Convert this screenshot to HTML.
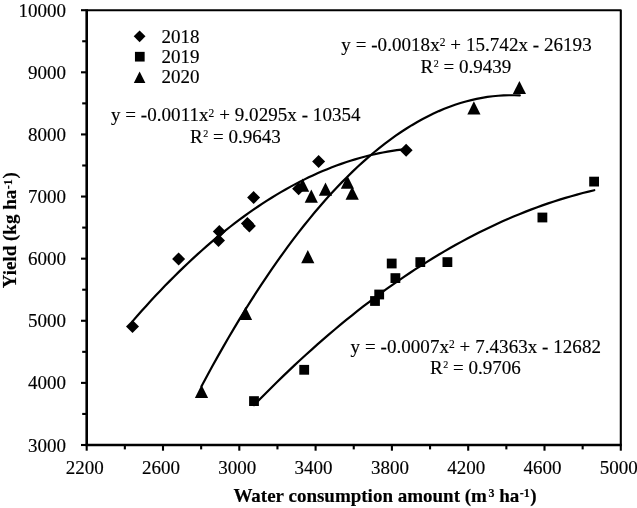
<!DOCTYPE html>
<html><head><meta charset="utf-8"><style>
html,body{margin:0;padding:0;background:#fff;}
svg{display:block;will-change:transform;}
text{font-family:"Liberation Serif",serif;fill:#000;stroke:#000;stroke-width:0.15px;}
</style></head><body>
<svg width="637" height="508" viewBox="0 0 637 508">
<g stroke="#000" fill="none" stroke-linecap="butt">
<path d="M86.7,10.2 H620.8 V445.0" stroke-width="2.1" stroke-linejoin="round"/>
<path d="M86.7,9.2 V445.0" stroke-width="2.6"/>
<path d="M85.4,445.0 H621.8" stroke-width="2.4"/>
<path d="M81.0,445.00 H86.7" stroke-width="2.1"/>
<path d="M82.2,413.94 H86.7" stroke-width="2.1"/>
<path d="M81.0,382.89 H86.7" stroke-width="2.1"/>
<path d="M82.2,351.83 H86.7" stroke-width="2.1"/>
<path d="M81.0,320.77 H86.7" stroke-width="2.1"/>
<path d="M82.2,289.71 H86.7" stroke-width="2.1"/>
<path d="M81.0,258.66 H86.7" stroke-width="2.1"/>
<path d="M82.2,227.60 H86.7" stroke-width="2.1"/>
<path d="M81.0,196.54 H86.7" stroke-width="2.1"/>
<path d="M82.2,165.49 H86.7" stroke-width="2.1"/>
<path d="M81.0,134.43 H86.7" stroke-width="2.1"/>
<path d="M82.2,103.37 H86.7" stroke-width="2.1"/>
<path d="M81.0,72.31 H86.7" stroke-width="2.1"/>
<path d="M82.2,41.26 H86.7" stroke-width="2.1"/>
<path d="M81.0,10.20 H86.7" stroke-width="2.1"/>
<path d="M86.70,445.0 V450.7" stroke-width="2.1"/>
<path d="M124.85,445.0 V449.4" stroke-width="2.1"/>
<path d="M163.00,445.0 V450.7" stroke-width="2.1"/>
<path d="M201.15,445.0 V449.4" stroke-width="2.1"/>
<path d="M239.30,445.0 V450.7" stroke-width="2.1"/>
<path d="M277.45,445.0 V449.4" stroke-width="2.1"/>
<path d="M315.60,445.0 V450.7" stroke-width="2.1"/>
<path d="M353.75,445.0 V449.4" stroke-width="2.1"/>
<path d="M391.90,445.0 V450.7" stroke-width="2.1"/>
<path d="M430.05,445.0 V449.4" stroke-width="2.1"/>
<path d="M468.20,445.0 V450.7" stroke-width="2.1"/>
<path d="M506.35,445.0 V449.4" stroke-width="2.1"/>
<path d="M544.50,445.0 V450.7" stroke-width="2.1"/>
<path d="M582.65,445.0 V449.4" stroke-width="2.1"/>
<path d="M620.80,445.0 V450.7" stroke-width="2.1"/>
</g>
<g stroke="#000" fill="none" stroke-width="2.2" stroke-linecap="round" stroke-linejoin="round">
<path d="M132.50,321.38 L137.14,316.05 L141.77,310.81 L146.41,305.66 L151.05,300.58 L155.69,295.59 L160.32,290.69 L164.96,285.86 L169.60,281.12 L174.24,276.46 L178.87,271.88 L183.51,267.39 L188.15,262.98 L192.78,258.65 L197.42,254.40 L202.06,250.24 L206.70,246.16 L211.33,242.16 L215.97,238.25 L220.61,234.42 L225.25,230.67 L229.88,227.00 L234.52,223.42 L239.16,219.92 L243.79,216.50 L248.43,213.17 L253.07,209.92 L257.71,206.75 L262.34,203.66 L266.98,200.66 L271.62,197.74 L276.26,194.90 L280.89,192.15 L285.53,189.48 L290.17,186.89 L294.81,184.38 L299.44,181.96 L304.08,179.62 L308.72,177.36 L313.35,175.19 L317.99,173.10 L322.63,171.09 L327.27,169.16 L331.90,167.32 L336.54,165.56 L341.18,163.88 L345.82,162.29 L350.45,160.77 L355.09,159.35 L359.73,158.00 L364.36,156.74 L369.00,155.55 L373.64,154.46 L378.28,153.44 L382.91,152.51 L387.55,151.66 L392.19,150.89 L396.83,150.21 L401.46,149.61 L406.10,149.09"/>
<path d="M254.00,405.18 L259.77,399.26 L265.54,393.43 L271.30,387.67 L277.07,381.99 L282.84,376.39 L288.61,370.87 L294.37,365.42 L300.14,360.06 L305.91,354.77 L311.68,349.56 L317.45,344.43 L323.21,339.37 L328.98,334.40 L334.75,329.50 L340.52,324.69 L346.28,319.95 L352.05,315.28 L357.82,310.70 L363.59,306.20 L369.36,301.77 L375.12,297.42 L380.89,293.15 L386.66,288.96 L392.43,284.85 L398.19,280.81 L403.96,276.86 L409.73,272.98 L415.50,269.18 L421.27,265.46 L427.03,261.81 L432.80,258.25 L438.57,254.76 L444.34,251.35 L450.11,248.02 L455.87,244.77 L461.64,241.60 L467.41,238.51 L473.18,235.49 L478.94,232.55 L484.71,229.69 L490.48,226.91 L496.25,224.21 L502.02,221.58 L507.78,219.03 L513.55,216.57 L519.32,214.18 L525.09,211.86 L530.85,209.63 L536.62,207.47 L542.39,205.40 L548.16,203.40 L553.93,201.48 L559.69,199.64 L565.46,197.87 L571.23,196.19 L577.00,194.58 L582.76,193.05 L588.53,191.60 L594.30,190.23"/>
<path d="M201.50,386.23 L206.89,376.18 L212.29,366.31 L217.68,356.62 L223.08,347.10 L228.47,337.76 L233.87,328.59 L239.26,319.61 L244.66,310.79 L250.05,302.16 L255.45,293.70 L260.84,285.42 L266.24,277.31 L271.63,269.38 L277.03,261.63 L282.42,254.05 L287.82,246.65 L293.21,239.43 L298.61,232.39 L304.00,225.51 L309.40,218.82 L314.79,212.30 L320.19,205.96 L325.58,199.80 L330.98,193.81 L336.37,188.00 L341.77,182.37 L347.16,176.91 L352.56,171.63 L357.95,166.52 L363.35,161.59 L368.74,156.84 L374.14,152.26 L379.53,147.86 L384.93,143.64 L390.32,139.60 L395.72,135.73 L401.11,132.03 L406.51,128.52 L411.90,125.18 L417.30,122.01 L422.69,119.02 L428.09,116.21 L433.48,113.58 L438.88,111.12 L444.27,108.84 L449.67,106.73 L455.06,104.81 L460.46,103.05 L465.85,101.48 L471.25,100.08 L476.64,98.86 L482.04,97.81 L487.43,96.94 L492.83,96.25 L498.22,95.73 L503.62,95.39 L509.01,95.23 L514.41,95.24 L519.80,95.43"/>
</g>
<g fill="#000" stroke="none">
<path d="M201.50,384.80 L208.10,398.00 L194.90,398.00Z"/>
<path d="M245.50,306.80 L252.10,320.00 L238.90,320.00Z"/>
<path d="M302.60,178.50 L309.20,191.70 L296.00,191.70Z"/>
<path d="M311.30,189.50 L317.90,202.70 L304.70,202.70Z"/>
<path d="M325.50,182.50 L332.10,195.70 L318.90,195.70Z"/>
<path d="M347.40,175.60 L354.00,188.80 L340.80,188.80Z"/>
<path d="M352.20,186.50 L358.80,199.70 L345.60,199.70Z"/>
<path d="M307.80,250.00 L314.40,263.20 L301.20,263.20Z"/>
<path d="M473.90,101.20 L480.50,114.40 L467.30,114.40Z"/>
<path d="M519.40,80.90 L526.00,94.10 L512.80,94.10Z"/>
<rect x="249.10" y="396.20" width="9.80" height="9.80"/>
<rect x="299.30" y="364.90" width="9.80" height="9.80"/>
<rect x="370.10" y="296.10" width="9.80" height="9.80"/>
<rect x="374.30" y="289.60" width="9.80" height="9.80"/>
<rect x="386.80" y="258.60" width="9.80" height="9.80"/>
<rect x="390.50" y="273.20" width="9.80" height="9.80"/>
<rect x="415.40" y="257.20" width="9.80" height="9.80"/>
<rect x="442.50" y="257.20" width="9.80" height="9.80"/>
<rect x="537.50" y="212.60" width="9.80" height="9.80"/>
<rect x="589.20" y="176.70" width="9.80" height="9.80"/>
<path d="M132.50,320.10 L139.00,326.60 L132.50,333.10 L126.00,326.60Z"/>
<path d="M178.60,252.40 L185.10,258.90 L178.60,265.40 L172.10,258.90Z"/>
<path d="M219.30,225.10 L225.80,231.60 L219.30,238.10 L212.80,231.60Z"/>
<path d="M218.50,233.90 L225.00,240.40 L218.50,246.90 L212.00,240.40Z"/>
<path d="M247.40,216.90 L253.90,223.40 L247.40,229.90 L240.90,223.40Z"/>
<path d="M249.40,219.40 L255.90,225.90 L249.40,232.40 L242.90,225.90Z"/>
<path d="M253.60,191.10 L260.10,197.60 L253.60,204.10 L247.10,197.60Z"/>
<path d="M298.60,182.20 L305.10,188.70 L298.60,195.20 L292.10,188.70Z"/>
<path d="M318.60,155.00 L325.10,161.50 L318.60,168.00 L312.10,161.50Z"/>
<path d="M406.10,143.80 L412.60,150.30 L406.10,156.80 L399.60,150.30Z"/>
<path d="M139.60,30.40 L145.50,36.30 L139.60,42.20 L133.70,36.30Z"/>
<rect x="134.95" y="51.85" width="9.70" height="9.70"/>
<path d="M139.60,71.50 L145.40,83.10 L133.80,83.10Z"/>
</g>
<g font-size="19">
<text x="66.1" y="451.50" text-anchor="end">3000</text>
<text x="66.1" y="389.39" text-anchor="end">4000</text>
<text x="66.1" y="327.27" text-anchor="end">5000</text>
<text x="66.1" y="265.16" text-anchor="end">6000</text>
<text x="66.1" y="203.04" text-anchor="end">7000</text>
<text x="66.1" y="140.93" text-anchor="end">8000</text>
<text x="66.1" y="78.81" text-anchor="end">9000</text>
<text x="66.1" y="16.70" text-anchor="end">10000</text>
<text x="84.70" y="473.9" text-anchor="middle">2200</text>
<text x="161.00" y="473.9" text-anchor="middle">2600</text>
<text x="237.30" y="473.9" text-anchor="middle">3000</text>
<text x="313.60" y="473.9" text-anchor="middle">3400</text>
<text x="389.90" y="473.9" text-anchor="middle">3800</text>
<text x="466.20" y="473.9" text-anchor="middle">4200</text>
<text x="542.50" y="473.9" text-anchor="middle">4600</text>
<text x="618.80" y="473.9" text-anchor="middle">5000</text>
<text x="161.5" y="42.9">2018</text>
<text x="161.5" y="62.8">2019</text>
<text x="161.5" y="82.7">2020</text>
<text x="341.3" y="50.7" letter-spacing="0.05">y = -0.0018x<tspan font-size="11.5" dy="-4.6">2</tspan><tspan dy="4.6"> + 15.742x - 26193</tspan></text>
<text x="420.5" y="73">R<tspan font-size="10" dy="-5.8" dx="0.6">2</tspan><tspan dy="5.8"> = 0.9439</tspan></text>
<text x="110.9" y="121.1" letter-spacing="0.05">y = -0.0011x<tspan font-size="11.5" dy="-4.6">2</tspan><tspan dy="4.6"> + 9.0295x - 10354</tspan></text>
<text x="190" y="142.9">R<tspan font-size="10" dy="-5.8" dx="0.6">2</tspan><tspan dy="5.8"> = 0.9643</tspan></text>
<text x="350.6" y="353" letter-spacing="0.05">y = -0.0007x<tspan font-size="11.5" dy="-4.6">2</tspan><tspan dy="4.6"> + 7.4363x - 12682</tspan></text>
<text x="430" y="374.2">R<tspan font-size="10" dy="-5.8" dx="0.6">2</tspan><tspan dy="5.8"> = 0.9706</tspan></text>
</g>
<text x="233.4" y="501.8" font-size="19" font-weight="bold">Water consumption amount (m<tspan font-size="12" dy="-4.8" dx="1.5">3</tspan><tspan dy="4.8" dx="0"> ha</tspan><tspan font-size="12" dy="-4.8" dx="0.5">-1</tspan><tspan dy="4.8" dx="0.6">)</tspan></text>
<text transform="translate(16.3,288.3) rotate(-90)" font-size="19" font-weight="bold">Yield (kg ha<tspan font-size="12" dy="-4.8" dx="0.5">-1</tspan><tspan dy="4.8" dx="0.8">)</tspan></text>
</svg></body></html>
